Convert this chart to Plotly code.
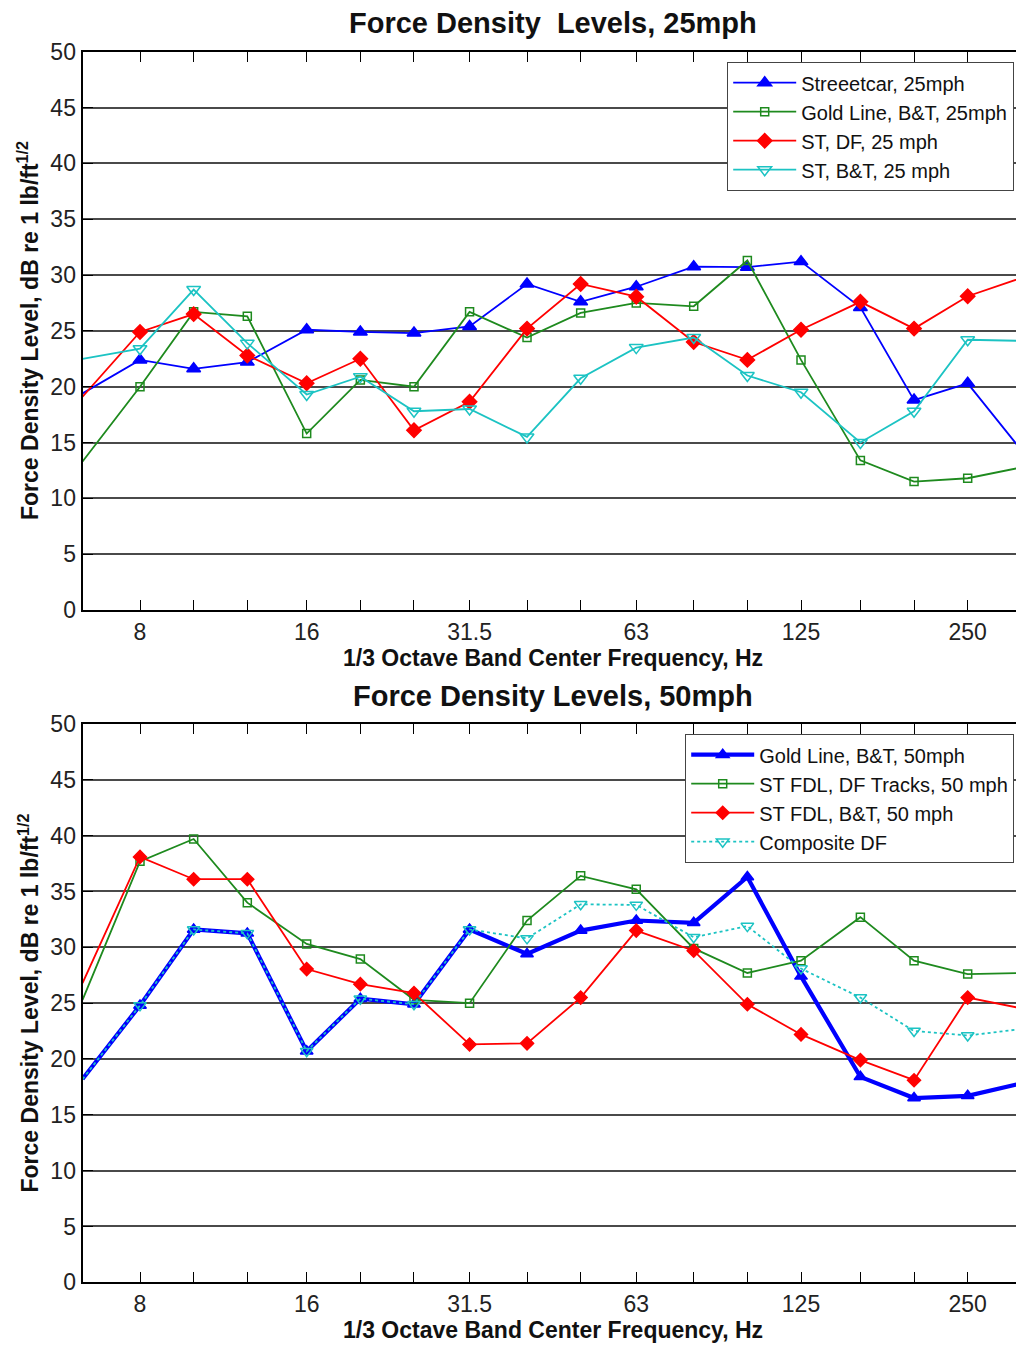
import math
import plotly.graph_objects as go

# ---------------- data ----------------
freqs = [6.3, 8, 10, 12.5, 16, 20, 25, 31.5, 40, 50, 63, 80, 100, 125, 160, 200, 250, 315]
label_freqs = [8, 16, 31.5, 63, 125, 250]
label_text = ["8", "16", "31.5", "63", "125", "250"]

# 25 mph
streetcar_25 = [19.4, 22.4, 21.6, 22.2, 25.1, 24.9, 24.8, 25.4, 29.2, 27.6, 28.95, 30.75, 30.7, 31.2, 27.1, 18.8, 20.3, 14.1]
goldline_bt_25 = [13.3, 20.0, 26.7, 26.3, 15.8, 20.6, 20.0, 26.7, 24.4, 26.6, 27.5, 27.2, 31.3, 22.4, 13.4, 11.5, 11.8, 12.8]
st_df_25 = [19.1, 24.9, 26.5, 22.8, 20.3, 22.5, 16.1, 18.65, 25.2, 29.2, 28.06, 24.0, 22.4, 25.1, 27.6, 25.2, 28.1, 29.8]
st_bt_25 = [22.5, 23.4, 28.7, 23.9, 19.3, 20.9, 17.8, 18.0, 15.5, 20.75, 23.5, 24.4, 21.0, 19.5, 15.0, 17.8, 24.2, 24.1]

# 50 mph
goldline_bt_50 = [18.2, 24.8, 31.6, 31.25, 20.7, 25.4, 24.9, 31.6, 29.4, 31.5, 32.4, 32.2, 36.3, 27.4, 18.4, 16.5, 16.7, 17.85]
st_fdl_df_50 = [25.3, 37.7, 39.7, 34.0, 30.3, 28.95, 25.3, 25.0, 32.4, 36.4, 35.2, 29.9, 27.7, 28.8, 32.7, 28.8, 27.6, 27.7]
st_fdl_bt_50 = [26.8, 38.1, 36.1, 36.1, 28.05, 26.7, 25.9, 21.3, 21.4, 25.5, 31.5, 29.7, 24.9, 22.2, 19.9, 18.1, 25.5, 24.5]
composite_df = [18.2, 24.8, 31.6, 31.25, 20.7, 25.4, 24.9, 31.6, 30.8, 33.85, 33.8, 30.9, 31.9, 28.1, 25.5, 22.5, 22.1, 22.7]

names_25 = ["Streeetcar, 25mph", "Gold Line, B&T, 25mph", "ST, DF, 25 mph", "ST, B&T, 25 mph"]
names_50 = ["Gold Line, B&T, 50mph", "ST FDL, DF Tracks, 50 mph", "ST FDL, B&T, 50 mph", "Composite DF"]

# ---------------- style ----------------
W, H = 1016, 1346
BLUE = "#0000FF"
GREEN = "#1E8A1E"
RED = "#FF0000"
CYAN = "#1CC3C3"
FONT = "Liberation Sans, Arial, sans-serif"

x_left_px = 82.55
px_per_decade = 553.7
x_range = [math.log10(6.3), math.log10(6.3) + (W - x_left_px) / px_per_decade]
x_dom = [x_left_px / W, 1.0]

top_px = (51.7, 610.0)
bot_px = (724.0, 1282.3)
dom_top = [1 - top_px[1] / H, 1 - top_px[0] / H]
dom_bot = [1 - bot_px[1] / H, 1 - bot_px[0] / H]

fig = go.Figure()

def add(y, name, color, symbol, size, width, xa, ya, legend, dash="solid", mlw=1.5):
    fig.add_trace(go.Scatter(
        x=freqs, y=y, name=name, mode="lines+markers",
        line=dict(color=color, width=width, dash=dash),
        marker=dict(symbol=symbol, size=size, color=color,
                    line=dict(color=color, width=mlw)),
        xaxis=xa, yaxis=ya, legend=legend, cliponaxis=False,
    ))

add(streetcar_25, names_25[0], BLUE, "triangle-up", 12, 1.8, "x", "y", "legend")
add(goldline_bt_25, names_25[1], GREEN, "square-open", 8, 1.8, "x", "y", "legend")
add(st_df_25, names_25[2], RED, "diamond", 11, 1.8, "x", "y", "legend")
add(st_bt_25, names_25[3], CYAN, "triangle-down-open", 12, 1.8, "x", "y", "legend")

add(goldline_bt_50, names_50[0], BLUE, "triangle-up", 11, 4.2, "x2", "y2", "legend2")
add(st_fdl_df_50, names_50[1], GREEN, "square-open", 8, 1.8, "x2", "y2", "legend2")
add(st_fdl_bt_50, names_50[2], RED, "diamond", 10, 1.8, "x2", "y2", "legend2")
add(composite_df, names_50[3], CYAN, "triangle-down-open", 11, 1.8, "x2", "y2", "legend2", dash="dot")

xaxis_common = dict(
    type="log", range=x_range, domain=x_dom,
    tickmode="array", tickvals=label_freqs, ticktext=label_text,
    ticks="inside", ticklen=10, tickwidth=1.2, tickcolor="black",
    minor=dict(tickmode="array", tickvals=freqs, ticks="inside", ticklen=10,
               tickwidth=1.2, tickcolor="black", showgrid=False),
    showline=True, linecolor="black", linewidth=2, mirror="ticks",
    showgrid=False, zeroline=False, automargin=False,
    tickfont=dict(family=FONT, size=23, color="#222"),
    ticklabelstandoff=0,
)
yaxis_common = dict(
    range=[0, 50], tickvals=list(range(0, 51, 5)),
    ticks="inside", ticklen=10, tickwidth=1.2, tickcolor="black",
    showline=True, linecolor="black", linewidth=2, automargin=False,
    showgrid=True, gridcolor="#4a4a4a", gridwidth=1.6, zeroline=False,
    tickfont=dict(family=FONT, size=23, color="#222"),
)

legend_common = dict(
    bgcolor="white", bordercolor="#444", borderwidth=1.2,
    font=dict(family=FONT, size=20, color="#111"),
    xanchor="right", yanchor="top", tracegroupgap=0,
    itemwidth=63,
)

fig.update_layout(
    width=W, height=H, autosize=False,
    margin=dict(l=0, r=0, t=0, b=0, pad=0, autoexpand=False),
    paper_bgcolor="white", plot_bgcolor="white",
    xaxis=dict(**xaxis_common, anchor="y"),
    yaxis=dict(**yaxis_common, domain=dom_top, anchor="x"),
    xaxis2=dict(**xaxis_common, anchor="y2"),
    yaxis2=dict(**yaxis_common, domain=dom_bot, anchor="x2"),
    legend=dict(**legend_common, x=1014 / W, y=1 - 62 / H),
    legend2=dict(**legend_common, x=1014 / W, y=1 - 734 / H),
    showlegend=True,
)

def ann(text, xpx, ypx, size, angle=0):
    fig.add_annotation(
        text=text, x=xpx / W, y=1 - ypx / H, xref="paper", yref="paper",
        xanchor="center", yanchor="middle", showarrow=False, textangle=angle,
        font=dict(family=FONT, size=size, color="#111", weight="bold"),
    )

ann("Force Density&nbsp;&nbsp;Levels, 25mph", 553, 23, 29)
ann("Force Density Levels, 50mph", 553, 696, 29)
xtitle = "1/3 Octave Band Center Frequency, Hz"
ann(xtitle, 553, 657.5, 23)
ann(xtitle, 553, 1329.8, 23)
ytitle = "Force Density Level, dB re 1 lb/ft<sup>1/2</sup>"
ann(ytitle, 28, 331, 23, angle=-90)
ann(ytitle, 28, 1003.5, 23, angle=-90)

fig.write_html(
    "out.html",
    config={"displayModeBar": False},
    post_script="document.body.style.margin='0px';document.body.style.overflow='hidden';",
)
